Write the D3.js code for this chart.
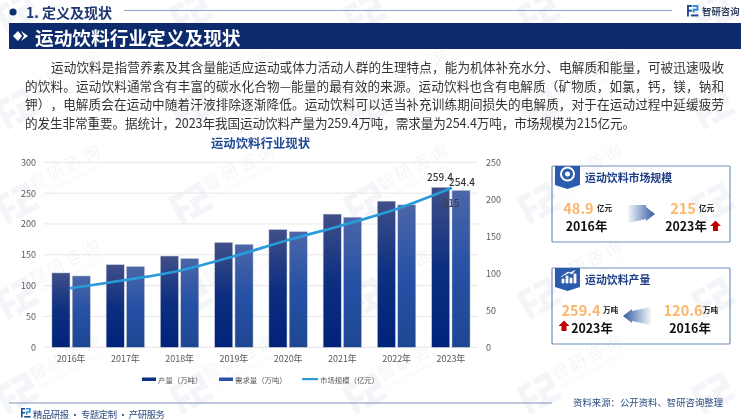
<!DOCTYPE html>
<html>
<head>
<meta charset="utf-8">
<script src="https://cdn.jsdelivr.net/npm/d3@7"></script>
<style>
html, body { margin: 0; padding: 0; background: #fff; }
svg { display: block; }
text { font-family: "Noto Sans CJK SC", "Noto Sans", sans-serif; text-spacing-trim: space-all; }
</style>
</head>
<body>
<svg id="chart" width="750" height="420"></svg>
<script>
var years = ['2016年', '2017年', '2018年', '2019年', '2020年', '2021年', '2022年', '2023年']
var output = [120.6, 134, 148, 170, 191, 216, 237, 259.4]
var demand = [115.7, 131, 144, 167, 187.6, 211, 231, 254.4]
var market = [80, 91, 103.5, 123, 145, 165, 187, 215]
var leftTicks = [0, 50, 100, 150, 200, 250, 300]
var rightTicks = [0, 50, 100, 150, 200, 250]
var bodyLines = [
    '运动饮料是指营养素及其含量能适应运动或体力活动人群的生理特点，能为机体补充水分、电解质和能量，可被迅速吸收',
    '的饮料。运动饮料通常含有丰富的碳水化合物—能量的最有效的来源。运动饮料也含有电解质（矿物质，如氯，钙，镁，钠和',
    '钾），电解质会在运动中随着汗液排除逐渐降低。运动饮料可以适当补充训练期间损失的电解质，对于在运动过程中延缓疲劳',
    '的发生非常重要。据统计，2023年我国运动饮料产量为259.4万吨，需求量为254.4万吨，市场规模为215亿元。'
]

var svg = d3.select('#chart')
var defs = svg.append('defs')

function addGradient(id, stops, horizontal) {
    var g = defs.append('linearGradient').attr('id', id)
        .attr('x1', 0).attr('y1', 0)
        .attr('x2', horizontal ? 1 : 0).attr('y2', horizontal ? 0 : 1)
    stops.forEach(s => {
        g.append('stop').attr('offset', s[0]).attr('stop-color', s[1]).attr('stop-opacity', s[2] === undefined ? 1 : s[2])
    })
}
addGradient('barOutput', [[0, '#404f88'], [0.5, '#0d2f80'], [1, '#00237a']])
addGradient('barDemand', [[0, '#4c66a8'], [0.5, '#2651a5'], [1, '#1e4693']])
addGradient('arrowRight', [[0, '#2f5aa0', 0.05], [1, '#2f5aa0', 1]], true)
addGradient('arrowLeft', [[0, '#2f5aa0', 1], [1, '#2f5aa0', 0.05]], true)

function label(x, y, str, size, color, weight, anchor) {
    return svg.append('text').attr('x', x).attr('y', y).text(str)
        .attr('font-size', size).attr('fill', color)
        .attr('font-weight', weight || 400)
        .attr('text-anchor', anchor || 'start')
        .attr('dominant-baseline', 'central')
}

function logo(x, y, s, color) {
    var g = svg.append('g').attr('transform', `translate(${x},${y}) scale(${s})`).attr('fill', color)
    g.append('path').attr('d', 'M0 0H5V2H2V5H5V7H2V12H0Z')
    g.append('path').attr('d', 'M6 0H12V6H8V8H6V4H10V2H6Z').attr('fill', '#2d8fd5')
    g.append('path').attr('d', 'M4 10H12V12H4Z')
    return g
}

// watermark, text left out where it would run off the page
var wm = svg.append('g').attr('opacity', 0.055)
d3.range(5).forEach(i => {
    d3.range(5).forEach(j => {
        var g = wm.append('g').attr('transform', `translate(${17 + i * 174},${13 + j * 95}) rotate(-28)`)
        g.append('path').attr('d', 'M-18 -15H-3V-9H-12V-1H-3V5H-12V15H-18Z M0 -15H18V3H6V9H0V-3H12V-9H0Z M-6 9H18V15H-6Z').attr('fill', '#27508f')
        if (j > 0 && i < 4) {
            g.append('text').attr('x', 20).attr('y', -3).text('智研咨询').attr('font-size', 17).attr('fill', '#27508f').attr('letter-spacing', 3)
            g.append('text').attr('x', 22).attr('y', 7).text('INTELLIGENCE RESEARCH GROUP').attr('font-size', 4.5).attr('fill', '#27508f')
        }
    })
})

// header
svg.append('circle').attr('cx', 13).attr('cy', 12).attr('r', 3.6).attr('fill', '#12306f')
label(26, 12, '1. 定义及现状', 14, '#1f3670', 700)
svg.append('line').attr('x1', 124).attr('x2', 672).attr('y1', 10.5).attr('y2', 10.5).attr('stroke', '#8fa3cf').attr('stroke-width', 1)
logo(687, 5, 0.95, '#1f4a94')
label(702, 10.5, '智研咨询', 9.4, '#33415f', 700)

svg.append('rect').attr('x', 9).attr('y', 23).attr('width', 732).attr('height', 26).attr('fill', '#0c2a6c')
svg.append('path').attr('d', 'M13 36L18 31L22 36L18 41Z M21 31L28 36L21 41L24 36Z').attr('fill', '#fff')
label(35, 36, '运动饮料行业定义及现状', 18.7, '#fff', 700)

// intro text
var lineY = [66, 85, 103.5, 122]
var lineStart = [51, 25, 25, 25]
var lineWidth = [673, 699, 699, 610]
bodyLines.forEach((line, i) => {
    label(lineStart[i], lineY[i], line, 12.6, '#333', 400)
        .attr('textLength', lineWidth[i]).attr('lengthAdjust', 'spacing')
})

label(260.5, 143, '运动饮料行业现状', 12.4, '#1f4a94', 700, 'middle')

// chart
var x = d3.scaleBand().domain(years).range([44, 478])
var inner = d3.scaleBand().domain(['output', 'demand']).range([7.9, 46.3]).paddingInner(0.11)
var yLeft = d3.scaleLinear().domain([0, 300]).range([347.3, 162.3])
var yRight = d3.scaleLinear().domain([0, 250]).range([347.3, 162.3])

svg.append('g').selectAll('line').data(leftTicks).join('line')
    .attr('x1', 44).attr('x2', 478)
    .attr('y1', d => yLeft(d)).attr('y2', d => yLeft(d))
    .attr('stroke', '#e6e6e6').attr('stroke-width', 1)

function styleAxis(g) {
    g.select('.domain').remove()
    g.selectAll('text').attr('font-size', 9).attr('fill', '#595959')
}
svg.append('g').attr('transform', 'translate(36,0)')
    .call(d3.axisLeft(yLeft).tickValues(leftTicks).tickSize(0).tickPadding(0))
    .call(styleAxis)
svg.append('g').attr('transform', 'translate(486,0)')
    .call(d3.axisRight(yRight).tickValues(rightTicks).tickSize(0).tickPadding(0))
    .call(styleAxis)
svg.append('g').attr('transform', 'translate(0,356)')
    .call(d3.axisBottom(x).tickSize(0).tickPadding(0))
    .call(styleAxis)

function drawBars(values, key, fill) {
    svg.append('g').selectAll('rect').data(values).join('rect')
        .attr('x', (d, i) => x(years[i]) + inner(key))
        .attr('y', d => yLeft(d))
        .attr('width', inner.bandwidth())
        .attr('height', d => yLeft(0) - yLeft(d))
        .attr('fill', `url(#${fill})`)
        .attr('stroke', '#c9ced8').attr('stroke-width', 0.5)
}
drawBars(output, 'output', 'barOutput')
drawBars(demand, 'demand', 'barDemand')

var marketLine = d3.line()
    .x((d, i) => x(years[i]) + x.bandwidth() / 2)
    .y(d => yRight(d))
    .curve(d3.curveMonotoneX)
svg.append('path').datum(market).attr('d', marketLine)
    .attr('fill', 'none').attr('stroke', '#2a9bd8').attr('stroke-width', 2.7).attr('stroke-linecap', 'round')

label(440, 176.5, output[7], 10, '#333', 500, 'middle')
label(462, 181.5, demand[7], 10, '#333', 500, 'middle')
label(451, 202, market[7], 10, '#404040', 500, 'middle')

// legend
svg.append('rect').attr('x', 142).attr('y', 377.5).attr('width', 14).attr('height', 3.5).attr('fill', '#0d2f80')
label(158, 379, '产量（万吨）', 7.4, '#595959')
svg.append('rect').attr('x', 219).attr('y', 377.5).attr('width', 14).attr('height', 3.5).attr('fill', '#2651a5')
label(235, 379, '需求量（万吨）', 7.4, '#595959')
svg.append('rect').attr('x', 302).attr('y', 378).attr('width', 16).attr('height', 2.2).attr('fill', '#2a9bd8')
label(320, 379, '市场规模（亿元）', 7.4, '#595959')

// footer
svg.append('line').attr('x1', 9).attr('x2', 552).attr('y1', 403).attr('y2', 403).attr('stroke', '#7f93bd').attr('stroke-width', 1)
logo(21, 408, 0.8, '#1f4a94')
label(33, 413.5, '精品研报 · 专题定制 · 产研服务', 9.4, '#2b4b80')
    .attr('textLength', 132).attr('lengthAdjust', 'spacing')
label(573, 402, '资料来源：公开资料、智研咨询整理', 9.4, '#2b4b80')

// cards
function card(top, title) {
    svg.append('rect').attr('x', 552).attr('y', top).attr('width', 178).attr('height', 76)
        .attr('fill', 'none').attr('stroke', '#6f8fc0').attr('stroke-width', 1.2).attr('rx', 1)
    svg.append('path').attr('d', `M555 ${top}H580V${top + 19}L567.5 ${top + 23}L555 ${top + 19}Z`).attr('fill', '#2a5cab')
    label(585, top + 11, title, 10.9, '#1f3f87', 700)
}
function redArrow(cx, cy) {
    svg.append('path')
        .attr('d', `M${cx} ${cy - 5.5}L${cx + 5.5} ${cy}H${cx + 2.5}V${cy + 5}H${cx - 2.5}V${cy}H${cx - 5.5}Z`)
        .attr('fill', '#c00000')
}

card(166, '运动饮料市场规模')
svg.append('circle').attr('cx', 567.5).attr('cy', 174).attr('r', 6.5).attr('fill', 'none').attr('stroke', '#fff').attr('stroke-width', 2)
svg.append('circle').attr('cx', 567.5).attr('cy', 174).attr('r', 2.5).attr('fill', '#fff')
label(578.5, 207, '48.9', 14.5, '#fcb66b', 700, 'middle')
label(597, 207.5, '亿元', 7.6, '#222', 700)
label(586.5, 225.5, '2016年', 12.4, '#111', 700, 'middle')
svg.append('path').attr('d', 'M628 205H646V207L655 214L646 221V219L628 223Z').attr('fill', 'url(#arrowRight)')
label(683, 207, '215', 14.5, '#fcb66b', 700, 'middle')
label(699, 207.5, '亿元', 7.6, '#222', 700)
label(686, 225.5, '2023年', 12.4, '#111', 700, 'middle')
redArrow(715.5, 226)

card(268, '运动饮料产量')
svg.append('path').attr('d', 'M562 283V279H564V283Z M566 283V276H568V283Z M570 283V278H572V283Z M574 283V274H576V283Z M561 277L568 272L572 274L575 270').attr('fill', '#fff').attr('stroke', '#fff').attr('stroke-width', 0.8)
label(581, 309, '259.4', 14.5, '#fcb66b', 700, 'middle')
label(603, 309.5, '万吨', 7.6, '#222', 700)
label(592, 327.5, '2023年', 12.4, '#111', 700, 'middle')
redArrow(564, 326)
svg.append('path').attr('d', 'M623 316L632 309V311L651 307V325L632 321V323Z').attr('fill', 'url(#arrowLeft)')
label(683, 309, '120.6', 14.5, '#fcb66b', 700, 'middle')
label(703, 309.5, '万吨', 7.6, '#222', 700)
label(690, 327.5, '2016年', 12.4, '#111', 700, 'middle')
</script>
</body>
</html>
